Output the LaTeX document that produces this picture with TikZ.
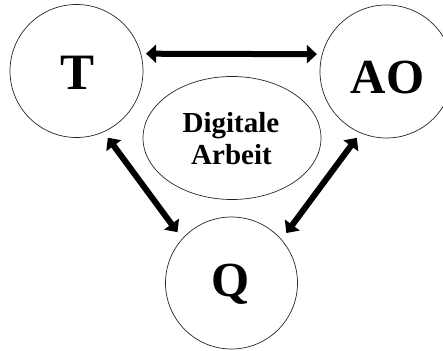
\documentclass[tikz,border=0pt]{standalone}
\usepackage{fontspec}
\setmainfont{Liberation Serif}
\usetikzlibrary{arrows.meta,shapes.geometric}
\begin{document}
\begin{tikzpicture}[x=1pt,y=1pt,
  ring/.style={draw=black!85,line width=0.7pt,circle,minimum size=133pt,inner sep=0pt},
  bigtxt/.style={font=\bfseries\fontsize{49}{49}\selectfont,anchor=base,inner sep=0pt},
  midtxt/.style={font=\bfseries\fontsize{29}{32}\selectfont,anchor=base,inner sep=0pt},
  dbl/.style={line width=6pt,{Triangle[length=10pt,width=18pt]}-{Triangle[length=10pt,width=18pt]}}]
\useasboundingbox (0,0) rectangle (443,350);
\node[ring] (T) at (76.5,279) {};
\node[ring] (AO) at (386.5,278.5) {};
\node[ring,minimum size=132pt] (Q) at (231.5,67) {};
\node[draw=black!85,line width=0.7pt,ellipse,minimum width=178pt,minimum height=123pt,inner sep=0pt] (DA) at (232,212) {};
\node[bigtxt,font=\bfseries\fontsize{51}{51}\selectfont] (tT) at (78,260) {T};
\node[bigtxt] (tAO) at (387.5,256) {AO};
\node[bigtxt] (tQ) at (231,53) {Q};
\node[midtxt] (d1) at (231,217) {Digitale};
\node[midtxt] (d2) at (231.5,185) {Arbeit};
\draw[dbl,shorten <=5pt,shorten >=5pt] (T.15) -- (AO.165);
\draw[dbl,shorten <=7pt,shorten >=8pt] (T.-66) -- (Q.138);
\draw[dbl,shorten <=6pt,shorten >=8pt] (AO.-113) -- (Q.41);
\end{tikzpicture}
\end{document}
